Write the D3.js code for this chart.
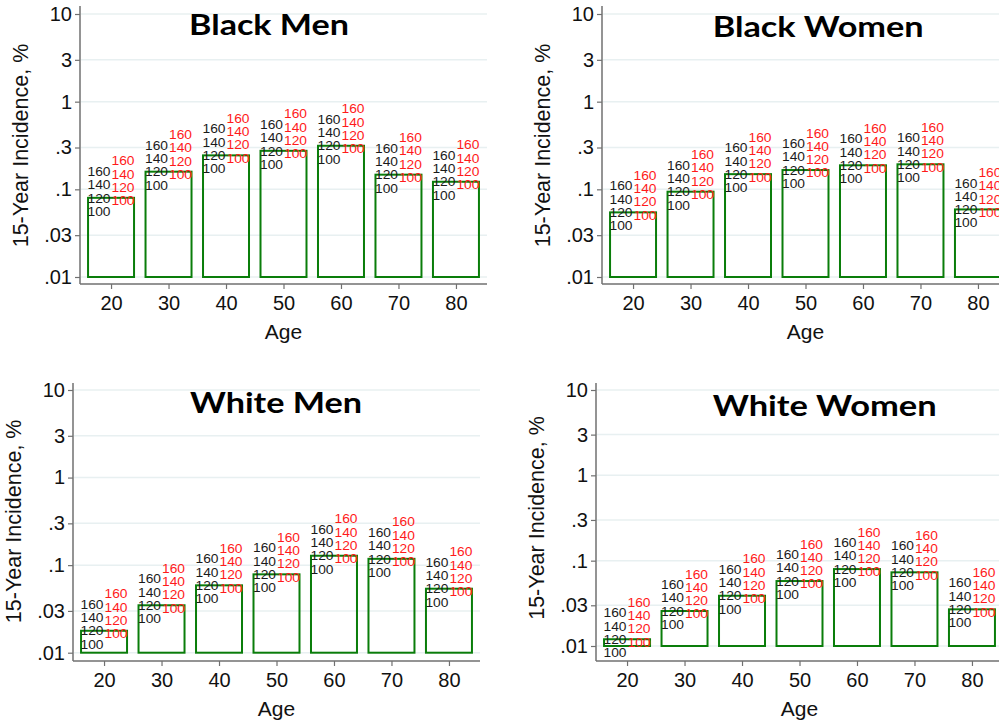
<!DOCTYPE html>
<html>
<head>
<meta charset="utf-8">
<script src="https://cdn.jsdelivr.net/npm/d3@7"></script>
<style>
  html, body { margin: 0; padding: 0; background: #fff; }
  svg { display: block; }
</style>
</head>
<body>
<svg id="chart" width="999" height="724"></svg>
<script>
// ---- data ----
const ages = [20, 30, 40, 50, 60, 70, 80];
const blackMen   = [0.080, 0.159, 0.244, 0.275, 0.314, 0.147, 0.122];
const blackWomen = [0.0546, 0.094, 0.149, 0.166, 0.188, 0.193, 0.059];
const whiteMen   = [0.0178, 0.0348, 0.0588, 0.0785, 0.128, 0.118, 0.0538];
const whiteWomen = [0.012, 0.0257, 0.0388, 0.0577, 0.0797, 0.073, 0.0269];
const panelTitles = ["Black Men", "Black Women", "White Men", "White Women"];
const yTickValues = [10, 3, 1, 0.3, 0.1, 0.03, 0.01];
const yTickLabels = ["10", "3", "1", ".3", ".1", ".03", ".01"];
const xTickValues = [20, 30, 40, 50, 60, 70, 80];
const sbpLabels = ["100", "120", "140", "160"];
const xTitle = "Age";
const yTitle = "15-Year Incidence, %";

// ---- layout ----
const panels = [
  { values: blackMen,   title: panelTitles[0], axisX: 80,  xEnd: 487,  axisTop: 6,   y10: 14,  y01: 277,   xAxisY: 284, tX: 189,   tW: 160, tY: 35 },
  { values: blackWomen, title: panelTitles[1], axisX: 602, xEnd: 1009, axisTop: 6,   y10: 14,  y01: 277,   xAxisY: 284, tX: 712.7, tW: 211, tY: 36.7 },
  { values: whiteMen,   title: panelTitles[2], axisX: 73,  xEnd: 480,  axisTop: 383, y10: 390, y01: 652.7, xAxisY: 661, tX: 190,   tW: 172, tY: 412.7 },
  { values: whiteWomen, title: panelTitles[3], axisX: 596, xEnd: 1003, axisTop: 383, y10: 390, y01: 646,   xAxisY: 661, tX: 712.7, tW: 224, tY: 415.7 }
];

const svg = d3.select("#chart");
svg.append("rect").attr("width", 999).attr("height", 724).attr("fill", "#fff");

const axisColor = "#707070";
const gridColor = "#e8f0f1";
const barColor = "#0a7d0a";
const tickFont = "'Liberation Sans', Arial, sans-serif";

panels.forEach(p => {
  const g = svg.append("g");
  const x = d3.scaleLinear().domain([14.6, 85.4]).range([p.axisX, p.xEnd]);
  const y = d3.scaleLog().domain([0.01, 10]).range([p.y01, p.y10]);

  // gridlines
  g.append("g").selectAll("line").data(yTickValues).join("line")
    .attr("x1", p.axisX + 1).attr("x2", p.xEnd)
    .attr("y1", d => y(d)).attr("y2", d => y(d))
    .attr("stroke", gridColor).attr("stroke-width", 1.5);

  // bars
  g.append("g").selectAll("rect").data(ages).join("rect")
    .attr("x", (d) => x(d - 4))
    .attr("width", (d) => x(d + 4) - x(d - 4))
    .attr("y", (d, i) => y(p.values[i]))
    .attr("height", (d, i) => y(0.01) - y(p.values[i]))
    .attr("fill", "none")
    .attr("stroke", barColor)
    .attr("stroke-width", 2);

  // labels: black column (left aligned at bar left), red column (right aligned at bar right)
  const lab = g.append("g").attr("font-family", tickFont).attr("font-size", 12);
  ages.forEach((a, i) => {
    const top = y(p.values[i]);
    sbpLabels.forEach((s, k) => {
      const blackBase = top + 18 - 13.3 * k;
      lab.append("text")
        .attr("x", x(a - 4) - 0.5).attr("y", blackBase)
        .attr("fill", "#1a1a1a")
        .attr("textLength", 23).attr("lengthAdjust", "spacingAndGlyphs")
        .text(s);
      lab.append("text")
        .attr("x", x(a + 4) + 0.5).attr("y", blackBase - 10.6)
        .attr("text-anchor", "end")
        .attr("fill", "#ff1a1a")
        .attr("textLength", 23).attr("lengthAdjust", "spacingAndGlyphs")
        .text(s);
    });
  });

  // y axis
  const yAxis = d3.axisLeft(y).tickValues(yTickValues)
    .tickFormat((d, i) => yTickLabels[i]).tickSize(5).tickPadding(3);
  const ya = g.append("g").attr("transform", `translate(${p.axisX},0)`).call(yAxis);
  ya.select(".domain").remove();
  ya.selectAll(".tick line").attr("stroke", axisColor).attr("stroke-width", 1.2);
  ya.selectAll(".tick text").attr("font-family", tickFont).attr("font-size", 20).attr("fill", "#111");
  g.append("line").attr("x1", p.axisX).attr("x2", p.axisX)
    .attr("y1", p.axisTop).attr("y2", p.xAxisY)
    .attr("stroke", axisColor).attr("stroke-width", 1.5);

  // x axis
  const xAxis = d3.axisBottom(x).tickValues(xTickValues).tickSize(5).tickPadding(7);
  const xa = g.append("g").attr("transform", `translate(0,${p.xAxisY})`).call(xAxis);
  xa.select(".domain").remove();
  xa.selectAll(".tick line").attr("stroke", axisColor).attr("stroke-width", 1.2);
  xa.selectAll(".tick text").attr("font-family", tickFont).attr("font-size", 20).attr("fill", "#111");
  g.append("line").attr("x1", p.axisX).attr("x2", p.xEnd)
    .attr("y1", p.xAxisY).attr("y2", p.xAxisY)
    .attr("stroke", axisColor).attr("stroke-width", 1.5);

  // axis titles
  g.append("text")
    .attr("x", (p.axisX + p.xEnd) / 2 - (p.xEnd > 999 ? 0 : 0)).attr("y", p.xAxisY + 55)
    .attr("text-anchor", "middle")
    .attr("font-family", tickFont).attr("font-size", 21).attr("fill", "#111")
    .text(xTitle);
  g.append("text")
    .attr("transform", `translate(${p.axisX - 52},${(p.y10 + p.y01) / 2}) rotate(-90)`)
    .attr("text-anchor", "middle")
    .attr("font-family", tickFont).attr("font-size", 21.5).attr("fill", "#111")
    .text(yTitle);

  // panel title
  g.append("text")
    .attr("x", p.tX).attr("y", p.tY)
    .attr("font-family", "Lato, 'Open Sans', sans-serif").attr("font-weight", 700)
    .attr("font-size", 29).attr("fill", "#000")
    .attr("textLength", p.tW).attr("lengthAdjust", "spacingAndGlyphs")
    .text(p.title);
});
</script>
</body>
</html>
